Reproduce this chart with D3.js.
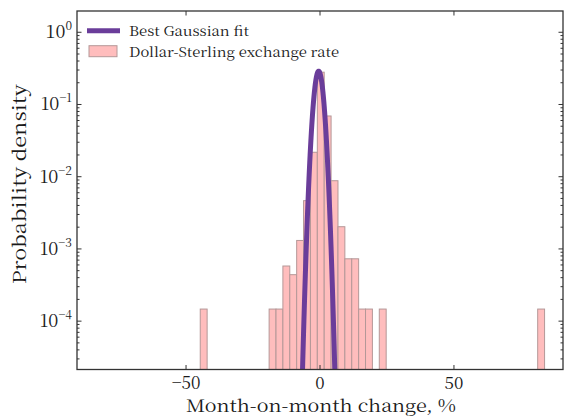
<!DOCTYPE html>
<html>
<head>
<meta charset="utf-8">
<script src="https://cdn.jsdelivr.net/npm/d3@7"></script>
<style>
  html, body { margin: 0; padding: 0; background: #fff; }
  svg { display: block; }
  text { font-family: "Noto Serif CJK SC", "Liberation Serif", serif; fill: #1a1a1a; }
</style>
</head>
<body>
<div id="chart"></div>
<script>
// ---- data ----
const binWidth = 2.57;
const binStarts = [-44.70, -18.99, -16.42, -13.85, -11.28, -8.71, -6.14, -3.57, -1.00, 1.57, 4.14, 6.71, 9.28, 11.85, 14.42, 16.99, 22.13, 81.25];
const densities = [1.47e-4, 1.47e-4, 1.47e-4, 5.8e-4, 4.4e-4, 1.31e-3, 4.66e-3, 0.0218, 0.28, 0.0693, 8.8e-3, 2.03e-3, 7.3e-4, 7.3e-4, 1.47e-4, 1.47e-4, 1.47e-4, 1.47e-4];
const fitMean = -0.5;
const fitSigma = 1.38;
const xTicks = [-50, 0, 50];
const yTickExponents = [0, -1, -2, -3, -4];
const legendLabels = ["Best Gaussian fit", "Dollar-Sterling exchange rate"];
const xLabel = "Month-on-month change, %";
const yLabel = "Probability density";

// ---- layout ----
const W = 565, H = 416;
const m = { left: 77, right: 2, top: 11, bottom: 46.5 };
const pw = W - m.left - m.right, ph = H - m.top - m.bottom;

const svg = d3.select("#chart").append("svg").attr("width", W).attr("height", H);
const g = svg.append("g").attr("transform", `translate(${m.left},${m.top})`);

const x = d3.scaleLinear().domain([-90.7, 90.7]).range([0, pw]);
const y = d3.scaleLog().domain([2.14e-5, 1.97]).range([ph, 0]);

svg.append("defs").append("clipPath").attr("id", "clip")
  .append("rect").attr("width", pw).attr("height", ph);

const plot = g.append("g").attr("clip-path", "url(#clip)");

// bars
const bins = binStarts.map((s, i) => ({ x0: s, x1: s + binWidth, d: densities[i] }));
plot.selectAll("rect.bar").data(bins).join("rect")
  .attr("class", "bar")
  .attr("x", d => x(d.x0))
  .attr("width", d => x(d.x1) - x(d.x0))
  .attr("y", d => y(d.d))
  .attr("height", d => ph - y(d.d) + 2)
  .attr("fill", "#ffbdbd")
  .attr("stroke", "#b59898")
  .attr("stroke-width", 1);

// gaussian
const gauss = v => Math.exp(-((v - fitMean) ** 2) / (2 * fitSigma ** 2)) / (fitSigma * Math.sqrt(2 * Math.PI));
const gx = d3.range(fitMean - 7, fitMean + 7.001, 0.02);
plot.append("path")
  .datum(gx)
  .attr("fill", "none")
  .attr("stroke", "#6a3d9a")
  .attr("stroke-width", 5)
  .attr("stroke-linejoin", "round")
  .attr("d", d3.line().x(v => x(v)).y(v => Math.min(y(Math.max(gauss(v), 1e-12)), ph + 10)));

// frame
g.append("rect").attr("width", pw).attr("height", ph)
  .attr("fill", "none").attr("stroke", "#333").attr("stroke-width", 1.3);

// x ticks (inward, top & bottom)
xTicks.forEach(t => {
  g.append("line").attr("x1", x(t)).attr("x2", x(t)).attr("y1", ph).attr("y2", ph - 4.5)
    .attr("stroke", "#333").attr("stroke-width", 1);
  g.append("line").attr("x1", x(t)).attr("x2", x(t)).attr("y1", 0).attr("y2", 4.5)
    .attr("stroke", "#333").attr("stroke-width", 1);
  g.append("text").attr("x", x(t)).attr("y", ph + 19).attr("text-anchor", "middle")
    .style("font-size", "17px")
    .text(t < 0 ? "\u2212" + Math.abs(t) : String(t));
});

// y ticks (major + minor, inward, left & right)
const ymin = y.domain()[0], ymax = y.domain()[1];
for (let e = -5; e <= 0; e++) {
  for (let k = 1; k <= 9; k++) {
    const v = k * Math.pow(10, e);
    if (v < ymin || v > ymax) continue;
    const len = k === 1 ? 4.5 : 2.5;
    g.append("line").attr("x1", 0).attr("x2", len).attr("y1", y(v)).attr("y2", y(v))
      .attr("stroke", "#333").attr("stroke-width", 1);
    g.append("line").attr("x1", pw).attr("x2", pw - len).attr("y1", y(v)).attr("y2", y(v))
      .attr("stroke", "#333").attr("stroke-width", 1);
  }
}
yTickExponents.forEach(e => {
  const t = g.append("text").attr("x", -5).attr("y", y(Math.pow(10, e)) + 6)
    .attr("text-anchor", "end").style("font-size", "18px");
  t.append("tspan").text("10");
  t.append("tspan").attr("dy", -8).style("font-size", "12px").text(e === 0 ? "0" : "\u2212" + Math.abs(e));
});

// axis labels
svg.append("text").attr("x", m.left + pw / 2 + 1).attr("y", 411.5).attr("text-anchor", "middle")
  .style("font-size", "17px").attr("textLength", 270).attr("lengthAdjust", "spacingAndGlyphs").text(xLabel);
svg.append("text").attr("transform", `translate(26,${m.top + ph / 2 - 6}) rotate(-90)`)
  .attr("text-anchor", "middle").style("font-size", "18px").attr("textLength", 200).attr("lengthAdjust", "spacingAndGlyphs").text(yLabel);

// legend
const lg = svg.append("g");
lg.append("line").attr("x1", 87).attr("x2", 120).attr("y1", 30.7).attr("y2", 30.7)
  .attr("stroke", "#6a3d9a").attr("stroke-width", 5);
lg.append("text").attr("x", 129).attr("y", 36).style("font-size", "13.5px").attr("textLength", 120).attr("lengthAdjust", "spacingAndGlyphs").text(legendLabels[0]);
lg.append("rect").attr("x", 89).attr("y", 45.7).attr("width", 28).attr("height", 11)
  .attr("fill", "#ffbdbd").attr("stroke", "#b59898").attr("stroke-width", 1);
lg.append("text").attr("x", 129).attr("y", 57).style("font-size", "13.5px").attr("textLength", 210).attr("lengthAdjust", "spacingAndGlyphs").text(legendLabels[1]);
</script>
</body>
</html>
